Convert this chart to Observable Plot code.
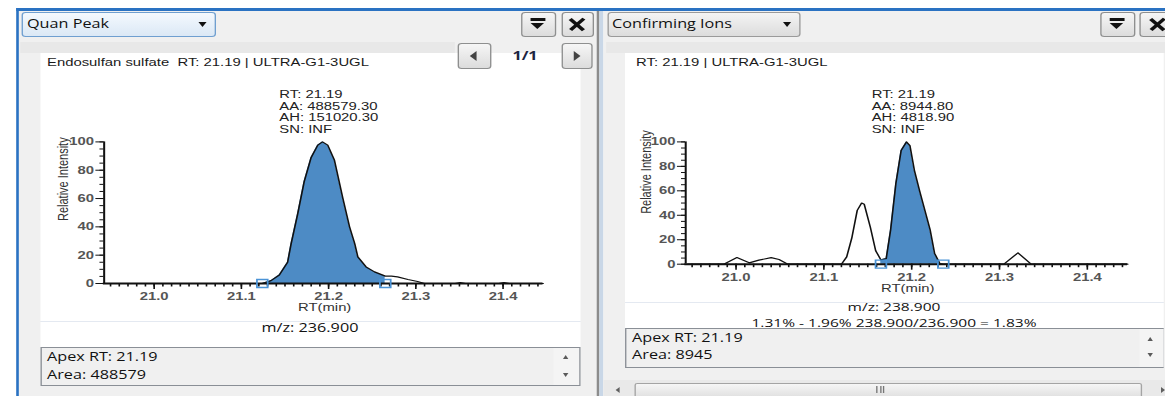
<!DOCTYPE html>
<html><head><meta charset="utf-8">
<script src="https://cdn.jsdelivr.net/npm/d3@7"></script>
<script src="https://cdn.jsdelivr.net/npm/@observablehq/plot@0.6"></script>
<style>
html,body{margin:0;padding:0;background:#fff;overflow:hidden;width:1165px;height:396px;}
#stage{position:absolute;left:0;top:0;width:863px;height:396px;overflow:hidden;transform:scaleX(1.35);transform-origin:0 0;font-family:"Open Sans","Noto Sans",sans-serif;font-size:12px;color:#111;}
.abs{position:absolute;box-sizing:border-box;}
.tri{position:absolute;width:0;height:0;}
</style></head>
<body><div id="stage"></div>
<script>
// ---------- data ----------
const quanRT = [20.945, 21.124, 21.134, 21.1435, 21.153, 21.157, 21.1645, 21.172, 21.18, 21.1876, 21.193, 21.199, 21.2067, 21.216, 21.224, 21.23, 21.2335, 21.243, 21.2526, 21.265, 21.272, 21.279, 21.291, 21.302, 21.31, 21.345, 21.351, 21.357, 21.395, 21.401, 21.407, 21.446];
const quanIntensity = [0, 0, 2, 6, 15, 28, 49, 72, 89, 97.7, 100, 97.7, 87, 61, 40, 28, 18.8, 11.7, 8.2, 5.2, 5.2, 4.7, 2.8, 1.4, 0, 0, 0.6, 0, 0, 0.6, 0, 0];
const quanPeakBounds = [21.124, 21.265];
const quanAnnotation = ["RT: 21.19", "AA: 488579.30", "AH: 151020.30", "SN: INF"];
const quanTitle = "Endosulfan sulfate  RT: 21.19 | ULTRA-G1-3UGL";
const quanMz = "m/z: 236.900";
const quanInfo = ["Apex RT: 21.19", "Area: 488579"];

const confRT = [20.945, 20.986, 21.001, 21.015, 21.026, 21.040, 21.049, 21.059, 21.120, 21.126, 21.132, 21.138, 21.143, 21.146, 21.153, 21.159, 21.165, 21.171, 21.176, 21.182, 21.188, 21.194, 21.198, 21.203, 21.209, 21.215, 21.221, 21.226, 21.232, 21.236, 21.305, 21.321, 21.336, 21.446];
const confIntensity = [0, 0, 5.4, 1.1, 3.3, 5.4, 3.8, 0, 0, 6, 22, 44, 50, 49, 30, 11, 3.5, 4.6, 28, 66, 93, 100, 97, 77, 60, 44, 28, 9, 0.5, 0, 0, 9.3, 0, 0];
const confPeakBounds = [21.165, 21.236];
const confAnnotation = ["RT: 21.19", "AA: 8944.80", "AH: 4818.90", "SN: INF"];
const confTitle = "RT: 21.19 | ULTRA-G1-3UGL";
const confMz = "m/z: 238.900";
const confRatio = "1.31% - 1.96% 238.900/236.900 = 1.83%";
const confInfo = ["Apex RT: 21.19", "Area: 8945"];

const rtDomain = [20.945, 21.446];
const rtTicks = [21.0, 21.1, 21.2, 21.3, 21.4];
const rtTickLabels = ["21.0", "21.1", "21.2", "21.3", "21.4"];
const intensityDomain = [0, 100];
const intensityTicks = [0, 20, 40, 60, 80, 100];
const intensityTickLabels = ["0", "20", "40", "60", "80", "100"];
const xAxisLabel = "RT(min)";
const yAxisLabel = "Relative Intensity";
const viewNames = ["Quan Peak", "Confirming Ions"];
const pageLabel = "1/1";

// ---------- layout helpers (reference px; x is divided by the horizontal stretch S) ----------
const S = 1165 / 863;
const stage = document.getElementById("stage");
function box(x1, y1, x2, y2, css = {}) {
  const d = document.createElement("div");
  d.className = "abs";
  Object.assign(d.style, {left: x1 / S + "px", top: y1 + "px", width: (x2 - x1) / S + "px", height: (y2 - y1) + "px"}, css);
  stage.appendChild(d);
  return d;
}
function txt(x1, x2, y, text, css = {}, align = "left", h = 16) {
  const d = box(x1, y - h / 2, x2, y + h / 2, Object.assign({lineHeight: h + "px", whiteSpace: "pre", textAlign: align}, css));
  d.textContent = text;
  return d;
}
function tri(cx, cy, w, h, dir, color) {
  const d = document.createElement("div");
  d.className = "tri";
  const wu = w / S;
  const st = {left: (cx / S - wu / 2) + "px", top: (cy - h / 2) + "px"};
  if (dir === "down") Object.assign(st, {borderLeft: `${wu/2}px solid transparent`, borderRight: `${wu/2}px solid transparent`, borderTop: `${h}px solid ${color}`});
  if (dir === "up") Object.assign(st, {borderLeft: `${wu/2}px solid transparent`, borderRight: `${wu/2}px solid transparent`, borderBottom: `${h}px solid ${color}`});
  if (dir === "left") Object.assign(st, {borderTop: `${h/2}px solid transparent`, borderBottom: `${h/2}px solid transparent`, borderRight: `${wu}px solid ${color}`});
  if (dir === "right") Object.assign(st, {borderTop: `${h/2}px solid transparent`, borderBottom: `${h/2}px solid transparent`, borderLeft: `${wu}px solid ${color}`});
  Object.assign(d.style, st);
  stage.appendChild(d);
  return d;
}
const btnCss = {border: "1px solid #8e8f8f", borderRadius: "3px", background: "linear-gradient(#f6f6f6,#dcdcdc)"};
function closeBtn(x1, x2) {
  box(x1, 12, x2, 36.5, btnCss);
  const cx = (x1 + x2) / 2, cy = 24.3;
  for (const a of [49, -49]) {
    const b = document.createElement("div");
    b.className = "abs";
    Object.assign(b.style, {left: (cx / S - 7.3) + "px", top: (cy - 1.3) + "px", width: "14.6px", height: "2.6px", background: "#111", transform: `rotate(${a}deg)`});
    stage.appendChild(b);
  }
}
function filterBtn(x1, x2) {
  box(x1, 12, x2, 36.5, btnCss);
  const cx = (x1 + x2) / 2;
  box(cx - 7.5, 18.2, cx + 7.5, 20.6, {background: "#111"});
  tri(cx, 26, 15, 6.5, "down", "#111");
}

// ---------- chrome ----------
box(16, 8.3, 1165, 10.7, {background: "#2a72c2"});
box(16, 8.3, 18.5, 396, {background: "#2a72c2"});
box(18.5, 10.7, 597, 396, {background: "#f0f0f0"});
box(597, 10.7, 600, 396, {background: "#8c8c8c"});
box(600, 10.7, 604, 396, {background: "#c9d7e7"});
box(604, 10.7, 1165, 396, {background: "#f0f0f0"});

// left panel header
box(21, 12, 216, 36.5, {border: "1px solid #6f9fd0", borderRadius: "3px", background: "linear-gradient(#f4f9fe,#dbe8f5)"});
txt(27, 200, 24.3, viewNames[0]);
tri(203, 24.5, 9, 5, "down", "#111");
filterBtn(521, 556);
closeBtn(561, 594);
box(20, 41.7, 455, 53.3, {background: "#e8e8e8"});

// left chart area
box(40, 53.3, 580, 321, {background: "#fff"});
box(40, 321, 580, 322, {background: "#e4e9f1"});
box(40, 322, 580, 347, {background: "#fff"});
txt(40, 580, 328, quanMz, {}, "center");
box(40, 347, 580, 386, {border: "1px solid #8a8f96", background: "#f0f0f0"});
box(553, 348, 579, 385, {background: "#f4f4f4"});
tri(566, 357, 7, 4, "up", "#5a5a5a");
tri(566, 375, 7, 4, "down", "#5a5a5a");
txt(47, 540, 357, quanInfo[0]);
txt(47, 540, 375, quanInfo[1]);

// right panel header
box(607, 12, 800, 36.5, {border: "1px solid #9a9a9a", borderRadius: "3px", background: "linear-gradient(#f4f4f4,#dcdcdc)"});
txt(612, 780, 24.3, viewNames[1]);
tri(787, 24.5, 9, 5, "down", "#111");
filterBtn(1100, 1135);
closeBtn(1140, 1175);
box(606, 41.7, 1165, 53.3, {background: "#e8e8e8"});

// right chart area
box(625, 53.3, 1163, 302, {background: "#fff"});
box(625, 302, 1163, 303, {background: "#e4e9f1"});
box(625, 303, 1163, 328, {background: "#fff"});
box(625, 328, 1164, 368, {border: "1px solid #8a8f96", background: "#f0f0f0"});
box(1140, 329, 1163, 367, {background: "#f4f4f4"});
txt(625, 1163, 307, confMz, {fontSize: "11.5px"}, "center", 12);
txt(625, 1163, 322.5, confRatio, {fontSize: "11.5px"}, "center", 12);
tri(1151, 339, 7, 4, "up", "#5a5a5a");
tri(1151, 355, 7, 4, "down", "#5a5a5a");
txt(632, 1100, 338, confInfo[0]);
txt(632, 1100, 355, confInfo[1]);

// horizontal scrollbar
box(604, 380, 1165, 396, {background: "#e9e9e9"});
tri(618, 390, 5, 7, "left", "#606060");
tri(1163, 390, 5, 7, "right", "#606060");
box(634, 383, 1142, 398, {border: "1px solid #a4a4a4", borderRadius: "2px", background: "linear-gradient(#f6f6f6,#e0e0e0)"});
for (const gx of [876.5, 880, 883.5]) box(gx, 386, gx + 1.3, 393, {background: "#777"});

// ---------- charts ----------
const rtMinor = d3.range(2095, 2145).map(v => v / 100);
const intensityMinor = d3.range(0, 101, 5);

function chromatogram(cfg) {
  const {rt, intensity, bounds, annotation, frame, plotX, zeroY, topY, annDx, ylabDx, ylabDy, title, titleX} = cfg;
  const [fx1, fy1, fx2, fy2] = frame;
  const width = (fx2 - fx1) / S, height = fy2 - fy1;
  const pts = rt.map((t, i) => ({rt: t, intensity: intensity[i]}));
  const inside = pts.filter(d => d.rt >= bounds[0] - 1e-9 && d.rt <= bounds[1] + 1e-9);
  const apex = pts.reduce((a, b) => (b.intensity > a.intensity ? b : a));
  const svg = Plot.plot({
    width, height,
    marginLeft: (plotX[0] - fx1) / S,
    marginRight: (fx2 - plotX[1]) / S,
    marginTop: topY - fy1,
    marginBottom: fy2 - zeroY,
    style: {background: "transparent", fontFamily: '"Liberation Sans", Arial, sans-serif', fontSize: "11px", overflow: "visible"},
    x: {domain: rtDomain},
    y: {domain: intensityDomain},
    marks: [
      Plot.areaY(inside, {x: "rt", y: "intensity", fill: "#4d8bc5"}),
      Plot.line(pts, {x: "rt", y: "intensity", stroke: "#111", strokeWidth: 1.2}),
      Plot.ruleY([0], {stroke: "#111", strokeWidth: 2, insetLeft: -2}),
      Plot.ruleX([rtDomain[0]], {dx: -1.5, stroke: "#111", strokeWidth: 1.5}),
      Plot.axisX({ticks: rtMinor, tickSize: 3.5, fill: "none", label: null, stroke: "#111", strokeWidth: 1.2}),
      Plot.axisX({ticks: rtTicks, tickSize: 6, tickPadding: 2.5, tickFormat: d => rtTickLabels[rtTicks.indexOf(d)], fill: "#555", fontWeight: "bold", label: null, stroke: "#111", strokeWidth: 1.2}),
      Plot.axisY({ticks: intensityMinor, tickSize: 3, dx: -1.5, fill: "none", label: null, stroke: "#111"}),
      Plot.axisY({ticks: intensityTicks, tickSize: 6, tickPadding: 1.5, dx: -1.5, tickFormat: d => intensityTickLabels[intensityTicks.indexOf(d)], fill: "#555", fontWeight: "bold", label: null, stroke: "#111"}),
      Plot.text([xAxisLabel], {text: d => d, frameAnchor: "bottom", dy: 28, fill: "#333"}),
      Plot.text([yAxisLabel], {text: d => d, frameAnchor: "left", textAnchor: "middle", rotate: -90, dx: ylabDx, dy: ylabDy, fill: "#333"}),
      Plot.dot(bounds, {x: d => d, y: () => 0, symbol: "square", r: 4.5, stroke: "#4a93d6", strokeWidth: 1.3, fill: "none"}),
      Plot.text([apex], {x: "rt", y: "intensity", text: () => annotation.join("\n"), textAnchor: "start", lineAnchor: "top", lineHeight: 1.06, dx: annDx, dy: -52, fill: "#222"})
    ]
  });
  const holder = box(fx1, fy1, fx2, fy2);
  holder.appendChild(svg);
  txt(titleX, fx2 - 130, 62, title, {fontFamily: '"Liberation Sans", Arial, sans-serif', fontSize: "11px", color: "#1a1a1a"});
}

chromatogram({rt: quanRT, intensity: quanIntensity, bounds: quanPeakBounds, annotation: quanAnnotation,
  frame: [40, 53.3, 580, 321], plotX: [105, 542], zeroY: 283.3, topY: 141.7,
  annDx: -32, ylabDx: -31.8, ylabDy: -33.5, title: quanTitle, titleX: 47});
chromatogram({rt: confRT, intensity: confIntensity, bounds: confPeakBounds, annotation: confAnnotation,
  frame: [625, 53.3, 1163, 302], plotX: [687, 1127], zeroY: 264, topY: 141.7,
  annDx: -25.7, ylabDx: -31.1, ylabDy: -31, title: confTitle, titleX: 636});

// page navigation (drawn over the chart area, as in the reference)
box(457, 43, 491, 68.5, btnCss); tri(474, 56, 8, 11, "left", "#444");
box(562, 43, 593, 68.5, btnCss); tri(578, 56, 8, 11, "right", "#444");
txt(505, 545, 56, pageLabel, {fontWeight: "700", color: "#1d2540"}, "center");
</script>
</body></html>
